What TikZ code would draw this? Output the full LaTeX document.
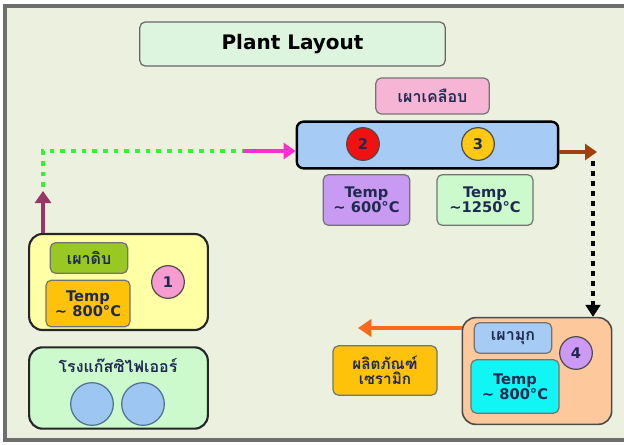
\documentclass[tikz,border=0pt]{standalone}
\usepackage{fontspec}
\setmainfont{DejaVu Sans}
\newfontfamily\thaifont[Script=Thai]{Loma}
\usetikzlibrary{arrows.meta}
\definecolor{bgc}{HTML}{EBF1DE}
\definecolor{framec}{HTML}{6E6E6E}
\definecolor{txtc}{HTML}{1F2A50}
\definecolor{titlec}{HTML}{DDF5DF}
\definecolor{pinkc}{HTML}{F7B5D6}
\definecolor{bluec}{HTML}{A6CBF5}
\definecolor{purplec}{HTML}{C99AF2}
\definecolor{lgreenc}{HTML}{CCFACC}
\definecolor{yelc}{HTML}{FFFFA6}
\definecolor{olivec}{HTML}{99C724}
\definecolor{amberc}{HTML}{FFC20A}
\definecolor{peachc}{HTML}{FCC89C}
\definecolor{cyanc}{HTML}{12F5F5}
\definecolor{lavc}{HTML}{CC99F5}
\definecolor{c1}{HTML}{F79CD0}
\definecolor{redc}{HTML}{F21010}
\definecolor{goldc}{HTML}{FFC812}
\definecolor{magc}{HTML}{FF2ED2}
\definecolor{grnd}{HTML}{33F233}
\definecolor{maroonc}{HTML}{9A3565}
\definecolor{brownc}{HTML}{A0400F}
\definecolor{orangec}{HTML}{FA6A1A}
\definecolor{circb}{HTML}{9EC6F2}
\definecolor{circd}{HTML}{4F6F8F}
\tikzset{
  lbl/.style={draw=black!55, line width=0.9pt, rounded corners=4pt, align=center, text=txtc, inner sep=0pt},
  bigbox/.style={draw=black!85, line width=1.6pt, rounded corners=10pt},
  num/.style={circle, draw=black!70, line width=0.9pt, minimum size=24.5pt, inner sep=0pt, font=\bfseries\fontsize{11}{12}\selectfont, text=txtc},
  tmp/.style={font=\bfseries\fontsize{11}{12}\selectfont},
  th/.style={font=\thaifont\bfseries\fontsize{12}{14}\selectfont},
  gascirc/.style={circle, draw=circd, line width=0.9pt, fill=circb, minimum size=32pt, inner sep=0pt},
  tip/.style={-{Triangle[length=9pt,width=12pt]}}
}
\begin{document}
\begin{tikzpicture}[x=0.75pt,y=-0.75pt]
\useasboundingbox (0,0) rectangle (624,444);
\fill[white] (0,0) rectangle (624,444);
\fill[bgc] (5,6) rectangle (624,440);
\draw[framec, line width=2.5pt] (630,6) -- (5,6) -- (5,440) -- (630,440);
% title
\node[lbl, draw=black!60, fill=titlec, minimum width=229pt, minimum height=33pt, text=black, font=\bfseries\fontsize{15}{17}\selectfont] (title) at (292.5,44) {Plant Layout};
% kiln glaze
\node[lbl, fill=pinkc, minimum width=85pt, minimum height=27pt, th] (glaze) at (432.5,96) {เผาเคลือบ};
\node[draw=black, line width=1.8pt, rounded corners=5pt, fill=bluec, minimum width=196pt, minimum height=35pt, inner sep=0pt] (kiln) at (427.5,145) {};
\node[num, fill=redc] (n2) at (363,144) {2};
\node[num, fill=goldc] (n3) at (478,144) {3};
\node[lbl, fill=purplec, minimum width=65pt, minimum height=38pt, tmp] (t600) at (366.5,200) {Temp\\[-1pt]\textasciitilde{} 600\textdegree C};
\node[lbl, fill=lgreenc, minimum width=72pt, minimum height=38pt, tmp] (t1250) at (485,200) {Temp\\[-1pt]\textasciitilde1250\textdegree C};
% box 1
\node[bigbox, fill=yelc, minimum width=134pt, minimum height=72pt] (box1) at (118.5,282) {};
\node[lbl, fill=olivec, minimum width=58pt, minimum height=23pt, th] (raw) at (89,258) {เผาดิบ};
\node[lbl, fill=amberc, minimum width=63pt, minimum height=35pt, tmp] (t800a) at (88,303.5) {Temp\\[-1pt]\textasciitilde{} 800\textdegree C};
\node[num, fill=c1] (n1) at (168,282) {1};
% gasifier
\node[bigbox, fill=lgreenc, minimum width=134pt, minimum height=61pt] (gas) at (118.5,388) {};
\node[th, text=txtc] (gastxt) at (118,366) {โรงแก๊สซิไฟเออร์};
\node[gascirc] (g1) at (92,404) {};
\node[gascirc] (g2) at (143,404) {};
% box 4
\node[bigbox, draw=black!70, line width=1.2pt, fill=peachc, minimum width=112pt, minimum height=80pt] (box4) at (537,371) {};
\node[lbl, fill=bluec, minimum width=58pt, minimum height=23pt, th] (pearl) at (513,338) {เผามุก};
\node[lbl, fill=cyanc, minimum width=66pt, minimum height=40pt, tmp] (t800b) at (515,386.5) {Temp\\[-1pt]\textasciitilde{} 800\textdegree C};
\node[num, fill=lavc] (n4) at (576,353) {4};
% product
\node[lbl, fill=amberc, minimum width=78pt, minimum height=37pt, font=\thaifont\bfseries\fontsize{11.5}{13}\selectfont] (prod) at (385,370.5) {ผลิตภัณฑ์\\[-2pt]เซรามิก};
% connectors
\coordinate (up) at (43,191);
\coordinate (corner) at (43,151);
\coordinate (mstart) at (243,151);
\coordinate (bout) at (597,152);
\coordinate (dtop) at (593,161);
\coordinate (pend) at (358,328);
\draw[maroonc, line width=3pt, tip] (box1.north -| up) -- (up);
\draw[grnd, line width=3.5pt, dash pattern=on 3.5pt off 4.5pt] (43,187) -- (corner) -- (mstart);
\draw[magc, line width=3pt, tip] (mstart) -- (kiln.west |- mstart);
\draw[brownc, line width=3pt, tip] (kiln.east |- bout) -- (bout);
\draw[black, line width=3pt, dash pattern=on 3.5pt off 4pt, -{Triangle[length=9pt,width=11pt]}] (dtop) -- (box4.north -| dtop);
\draw[orangec, line width=3pt, -{Triangle[length=10pt,width=13pt]}] (box4.west |- pend) -- (pend);
\end{tikzpicture}
\end{document}
